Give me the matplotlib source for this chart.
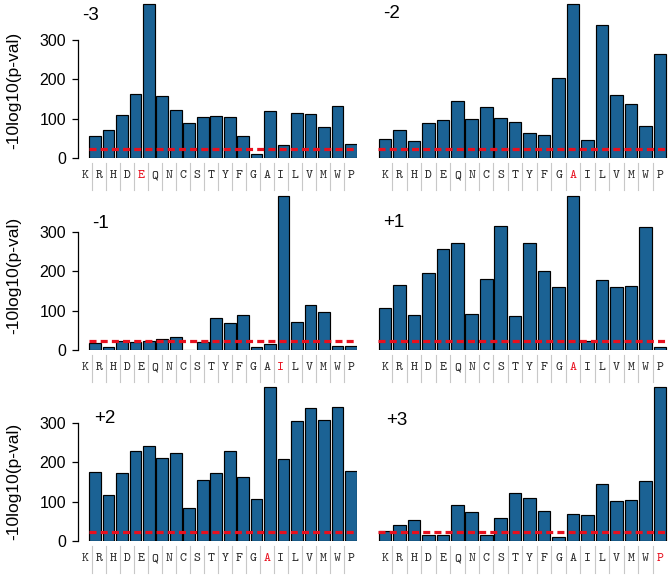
import matplotlib
matplotlib.use('Agg')
import matplotlib.pyplot as plt
import matplotlib.transforms as mtransforms
import numpy as np

residues = ['K', 'R', 'H', 'D', 'E', 'Q', 'N', 'C', 'S', 'T',
            'Y', 'F', 'G', 'A', 'I', 'L', 'V', 'M', 'W', 'P']

# -10log10(p-value) per residue, one list per position
pos_m3 = [55, 72, 110, 163, 389, 158, 122, 89, 104, 106, 105, 55, 11, 120, 33, 115, 112, 78, 131, 35]
pos_m2 = [49, 72, 44, 89, 95, 145, 100, 129, 102, 91, 64, 57, 202, 389, 46, 338, 160, 136, 80, 264]
pos_m1 = [18, 8, 24, 21, 24, 28, 34, 1, 21, 82, 68, 89, 8, 16, 390, 71, 115, 97, 10, 11]
pos_p1 = [106, 164, 89, 196, 257, 271, 90, 179, 314, 87, 271, 199, 160, 390, 22, 176, 160, 162, 311, 7]
pos_p2 = [175, 117, 172, 228, 240, 211, 222, 83, 155, 172, 227, 162, 107, 391, 208, 305, 337, 307, 339, 177]
pos_p3 = [25, 40, 54, 15, 14, 90, 74, 15, 58, 121, 109, 77, 9, 68, 66, 145, 101, 103, 153, 391]

panel_titles = ['-3', '-2', '-1', '+1', '+2', '+3']
highlighted = ['E', 'A', 'I', 'A', 'A', 'P']
threshold = 22

BAR_COLOR = '#1b6294'
RED = '#e8101e'
W, H = 672, 576


def make_axes(fig, left_px, right_px, base_px, height_px):
    return fig.add_axes([left_px / W, (H - base_px) / H,
                         (right_px - left_px) / W, height_px / H])


def draw_panel(ax, values, title, title_xy, hl, left_col, label_pos, ylab_y):
    x = np.arange(len(values))
    ax.bar(x, values, width=0.87, color=BAR_COLOR, edgecolor='black', linewidth=0.85, zorder=2)
    ax.hlines(threshold, -0.45, 19.45, colors=RED, linewidth=2.3, linestyles=(0, (2.2, 1.3)),
              zorder=3, clip_on=False)
    ax.set_ylim(0, 395)

    for side in ['top', 'right', 'bottom']:
        ax.spines[side].set_visible(False)
    ax.set_xticks([])
    if left_col:
        ax.spines['left'].set_bounds(0, 300)
        ax.spines['left'].set_linewidth(0.9)
        ax.set_yticks([0, 100, 200, 300])
        ax.tick_params(axis='y', direction='out', length=4.5, width=0.9, pad=4, labelsize=11.5)
        ax.set_ylabel('-10log10(p-val)', fontsize=12.5)
        ax.yaxis.set_label_coords(-0.205, ylab_y)
    else:
        ax.spines['left'].set_visible(False)
        ax.set_yticks([])

    ax.text(title_xy[0], title_xy[1], title, fontsize=13.5, ha='left', va='center')

    # residue letters under the bars, with thin separators
    trans = mtransforms.blended_transform_factory(ax.transData, ax.transAxes)
    for i, res in enumerate(residues):
        color = RED if res == hl else '#2a2a2a'
        ax.text(label_pos[i], -0.115, res, transform=trans, ha='center', va='center',
                fontsize=9.5, family='cmtt10', color=color, clip_on=False)
    for i in range(len(residues) - 1):
        sx = (label_pos[i] + label_pos[i + 1]) / 2
        ax.plot([sx, sx], [-0.035, -0.205], transform=trans, color='#c8c8c8', lw=0.8, clip_on=False)


plt.rcParams['font.family'] = ['Liberation Sans', 'DejaVu Sans']
fig = plt.figure(figsize=(6.72, 5.76), dpi=100)

all_values = [pos_m3, pos_m2, pos_m1, pos_p1, pos_p2, pos_p3]
baselines = [158, 350, 541]
title_pos = [(-0.95, 360), (-0.1, 365), (-0.2, 321), (-0.1, 324), (-0.05, 311), (0.05, 306)]
ylab_ys = [0.43, 0.48, 0.38]
left_labels = np.linspace(-0.74, 19, 20)
right_labels = np.arange(20)

for k in range(6):
    row = k // 2
    left_col = (k % 2 == 0)
    base = baselines[row]
    if left_col:
        ax = make_axes(fig, 78, 357, base, 156)
        ax.set_xlim(-1.26, 19.45)
        labels = left_labels
    else:
        ax = make_axes(fig, 378, 668, base, 156)
        ax.set_xlim(-0.48, 19.56)
        labels = right_labels
    draw_panel(ax, all_values[k], panel_titles[k], title_pos[k], highlighted[k],
               left_col, labels, ylab_ys[row])

fig.savefig('out.png', dpi=100)
